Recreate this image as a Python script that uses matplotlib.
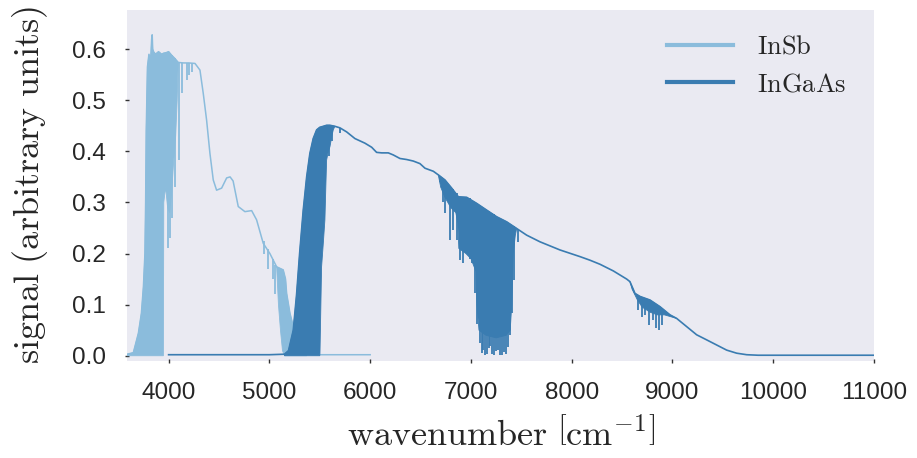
import numpy as np
import matplotlib
matplotlib.use("Agg")
import matplotlib.pyplot as plt
from matplotlib.lines import Line2D

# ---------------- data ----------------
series_names = ["InSb", "InGaAs"]
tick_x = [4000, 5000, 6000, 7000, 8000, 9000, 10000, 11000]
tick_y = [0.0, 0.1, 0.2, 0.3, 0.4, 0.5, 0.6]

# InSb upper curve
insb_x = [3590, 3650, 3700, 3730, 3750, 3765, 3772, 3778, 3790, 3805, 3815, 3825,
          3832, 3837, 3842, 3850, 3870, 3900, 3930, 3950, 3975, 4000, 4030, 4060,
          4095, 4150, 4200, 4262, 4311, 4344, 4377, 4410, 4443, 4476, 4526, 4576,
          4610, 4640, 4691, 4757, 4824, 4873, 4939, 5005, 5072, 5137, 5160, 5171,
          5204, 5254, 5320, 5370, 5450, 6000]
insb_y = [0.003, 0.006, 0.044, 0.083, 0.135, 0.200, 0.300, 0.440, 0.565, 0.590, 0.575, 0.590,
          0.620, 0.628, 0.600, 0.595, 0.590, 0.595, 0.590, 0.592, 0.593, 0.595, 0.588, 0.582,
          0.574, 0.573, 0.573, 0.572, 0.559, 0.513, 0.461, 0.396, 0.344, 0.324, 0.328, 0.348,
          0.350, 0.342, 0.292, 0.282, 0.284, 0.266, 0.220, 0.200, 0.174, 0.168, 0.150, 0.122,
          0.083, 0.044, 0.011, 0.003, 0.002, 0.002]
# InSb dense absorption bands: lower envelopes
insb_band1_x = [3590, 3948, 3952, 3970, 3990, 4010, 4030, 4050, 4070, 4085, 4095]
insb_band1_y = [0.000, 0.000, 0.300, 0.330, 0.290, 0.280, 0.320, 0.380, 0.430, 0.500, 0.574]
insb_band2_x = [5072, 5090, 5110, 5130, 5150, 5370]
insb_band2_y = [0.174, 0.100, 0.050, 0.010, 0.000, 0.000]
# InSb single absorption lines: position, bottom, top
insb_spike_x = [3996, 4013, 4036, 4062, 4106, 4129, 4185, 4205, 4230, 4950, 4990, 5040, 5060]
insb_spike_lo = [0.210, 0.230, 0.270, 0.330, 0.383, 0.514, 0.540, 0.550, 0.555, 0.200, 0.170, 0.150, 0.120]
insb_spike_hi = [0.595, 0.592, 0.588, 0.582, 0.574, 0.573, 0.573, 0.573, 0.572, 0.224, 0.209, 0.190, 0.178]

# InGaAs upper curve
ingaas_x = [4000, 5000, 5150, 5190, 5237, 5270, 5300, 5336, 5370, 5402, 5435, 5469,
            5500, 5535, 5568, 5601, 5650, 5700, 5767, 5849, 5948, 6015, 6064, 6114,
            6180, 6229, 6296, 6362, 6428, 6494, 6544, 6627, 6676, 6742, 6809, 6875,
            6958, 7058, 7156, 7255, 7355, 7454, 7553, 7685, 7884, 8082, 8181, 8281,
            8413, 8546, 8578, 8628, 8678, 8777, 8876, 8975, 9042, 9141, 9240, 9340,
            9439, 9538, 9637, 9737, 9850, 11000]
ingaas_y = [0.002, 0.002, 0.003, 0.010, 0.050, 0.120, 0.200, 0.285, 0.350, 0.396, 0.425, 0.442,
            0.447, 0.449, 0.451, 0.451, 0.449, 0.446, 0.438, 0.425, 0.416, 0.408, 0.398, 0.397,
            0.397, 0.393, 0.386, 0.384, 0.381, 0.376, 0.367, 0.361, 0.354, 0.344, 0.328, 0.311,
            0.310, 0.298, 0.285, 0.272, 0.262, 0.249, 0.236, 0.223, 0.207, 0.194, 0.187, 0.179,
            0.166, 0.150, 0.145, 0.122, 0.116, 0.109, 0.096, 0.080, 0.073, 0.057, 0.041, 0.031,
            0.021, 0.011, 0.005, 0.002, 0.001, 0.001]
# InGaAs dense absorption bands: lower envelopes
ingaas_band1_x = [5150, 5500, 5502, 5518, 5535, 5551, 5560, 5568, 5585, 5601, 5620, 5634, 5650]
ingaas_band1_y = [0.000, 0.000, 0.005, 0.174, 0.220, 0.266, 0.330, 0.383, 0.400, 0.409, 0.430, 0.442, 0.449]
ingaas_band2_x = [6676, 6700, 6742, 6800, 6850, 6870, 6880, 6950, 7000, 7050, 7060, 7080,
                  7150, 7250, 7350, 7390, 7405, 7420, 7440, 7454]
ingaas_band2_y = [0.354, 0.330, 0.310, 0.290, 0.280, 0.260, 0.210, 0.200, 0.190, 0.165, 0.100, 0.050,
                  0.040, 0.035, 0.040, 0.050, 0.100, 0.200, 0.235, 0.249]
ingaas_band3_x = [8578, 8600, 8650, 8700, 8780, 8850, 8920, 8990, 9042]
ingaas_band3_y = [0.145, 0.130, 0.110, 0.095, 0.085, 0.080, 0.080, 0.076, 0.073]
# InGaAs single absorption lines
ingaas_spike_x = [5594, 5617, 5700, 6693, 6726, 6742, 6792, 6818, 6858, 6891, 6924, 6990,
                  7015, 7040, 7065, 7090, 7105, 7123, 7140, 7162, 7175, 7189, 7210, 7228,
                  7250, 7271, 7290, 7304, 7325, 7347, 7370, 7387, 7404, 7427, 7470,
                  8660, 8700, 8730, 8770, 8810, 8840, 8870, 8900]
ingaas_spike_lo = [0.390, 0.420, 0.435, 0.340, 0.301, 0.279, 0.226, 0.246, 0.226, 0.187, 0.181, 0.190,
                   0.181, 0.122, 0.063, 0.024, 0.005, 0.011, 0.002, 0.004, 0.015, 0.020, 0.003, 0.002,
                   0.010, 0.011, 0.002, 0.002, 0.008, 0.004, 0.017, 0.040, 0.083, 0.148, 0.223,
                   0.090, 0.075, 0.080, 0.060, 0.070, 0.055, 0.050, 0.060]
ingaas_spike_hi = [0.451, 0.450, 0.446, 0.352, 0.346, 0.344, 0.333, 0.326, 0.318, 0.311, 0.310, 0.309,
                   0.303, 0.300, 0.297, 0.294, 0.292, 0.289, 0.287, 0.285, 0.283, 0.282, 0.279, 0.277,
                   0.273, 0.271, 0.269, 0.268, 0.265, 0.263, 0.260, 0.258, 0.256, 0.253, 0.248,
                   0.118, 0.115, 0.113, 0.110, 0.106, 0.102, 0.098, 0.094]

# ---------------- style ----------------
c_insb = "#8bbcdc"
c_ingaas = "#3a7cb1"
bg = "#eaeaf2"
plt.rcParams["mathtext.fontset"] = "cm"

fig = plt.figure(figsize=(9.17, 4.58), dpi=100)
ax = fig.add_axes([127.3 / 917, 1 - 360.7 / 458, (874 - 127.3) / 917, (360.7 - 10) / 458])
ax.set_facecolor(bg)
for s in ax.spines.values():
    s.set_visible(False)


def band_polygon(cx, cy, lx, ly):
    cx = np.asarray(cx, float)
    cy = np.asarray(cy, float)
    sel = (cx > lx[0]) & (cx < lx[-1])
    px = np.concatenate([[lx[0]], cx[sel], [lx[-1]], np.asarray(lx, float)[::-1]])
    top0 = np.interp(lx[0], cx, cy)
    top1 = np.interp(lx[-1], cx, cy)
    py = np.concatenate([[top0], cy[sel], [top1], np.asarray(ly, float)[::-1]])
    return px, py


# InSb
for lx, ly in [(insb_band1_x, insb_band1_y), (insb_band2_x, insb_band2_y)]:
    px, py = band_polygon(insb_x, insb_y, lx, ly)
    ax.fill(px, py, color=c_insb, lw=0.6, ec=c_insb, zorder=2)
ax.vlines(insb_spike_x, insb_spike_lo, insb_spike_hi, color=c_insb, lw=1.3, zorder=2)
ax.plot(insb_x, insb_y, color=c_insb, lw=1.1, zorder=2)

# InGaAs
for lx, ly in [(ingaas_band1_x, ingaas_band1_y), (ingaas_band2_x, ingaas_band2_y),
               (ingaas_band3_x, ingaas_band3_y)]:
    px, py = band_polygon(ingaas_x, ingaas_y, lx, ly)
    ax.fill(px, py, color=c_ingaas, lw=0.6, ec=c_ingaas, zorder=3)
ax.vlines(ingaas_spike_x, ingaas_spike_lo, ingaas_spike_hi, color=c_ingaas, lw=1.3, zorder=3)
ax.plot(ingaas_x, ingaas_y, color=c_ingaas, lw=1.2, zorder=3)

ax.set_xlim(3590, 11000)
ax.set_ylim(-0.0097, 0.6766)
ax.set_xticks(tick_x)
ax.set_xticklabels([str(t) for t in tick_x])
ax.set_yticks(tick_y)
ax.set_yticklabels([f"{t:.1f}" for t in tick_y])
ax.tick_params(axis="both", direction="inout", length=3, width=1, color="#333333",
               labelsize=17.5, pad=14, labelcolor="#262626")
for lab in ax.get_xticklabels() + ax.get_yticklabels():
    lab.set_fontfamily("Liberation Sans")

ax.set_xlabel(r"$\mathrm{wavenumber}\ \left[\mathrm{cm}^{-1}\right]$", fontsize=26,
              labelpad=9, color="#262626")
ax.set_ylabel(r"$\mathrm{signal\ (arbitrary\ units)}$", fontsize=26, labelpad=16,
              color="#262626")

handles = [Line2D([0], [0], color=c_insb, lw=3), Line2D([0], [0], color=c_ingaas, lw=3)]
leg = ax.legend(handles, [r"$\mathrm{InSb}$", r"$\mathrm{InGaAs}$"], loc="upper right",
                frameon=False, fontsize=19, handlelength=2.5, handletextpad=0.9,
                labelspacing=0.45, bbox_to_anchor=(0.995, 1.0))
for t in leg.get_texts():
    t.set_color("#262626")

fig.savefig("out.png", dpi=100, facecolor="white")
